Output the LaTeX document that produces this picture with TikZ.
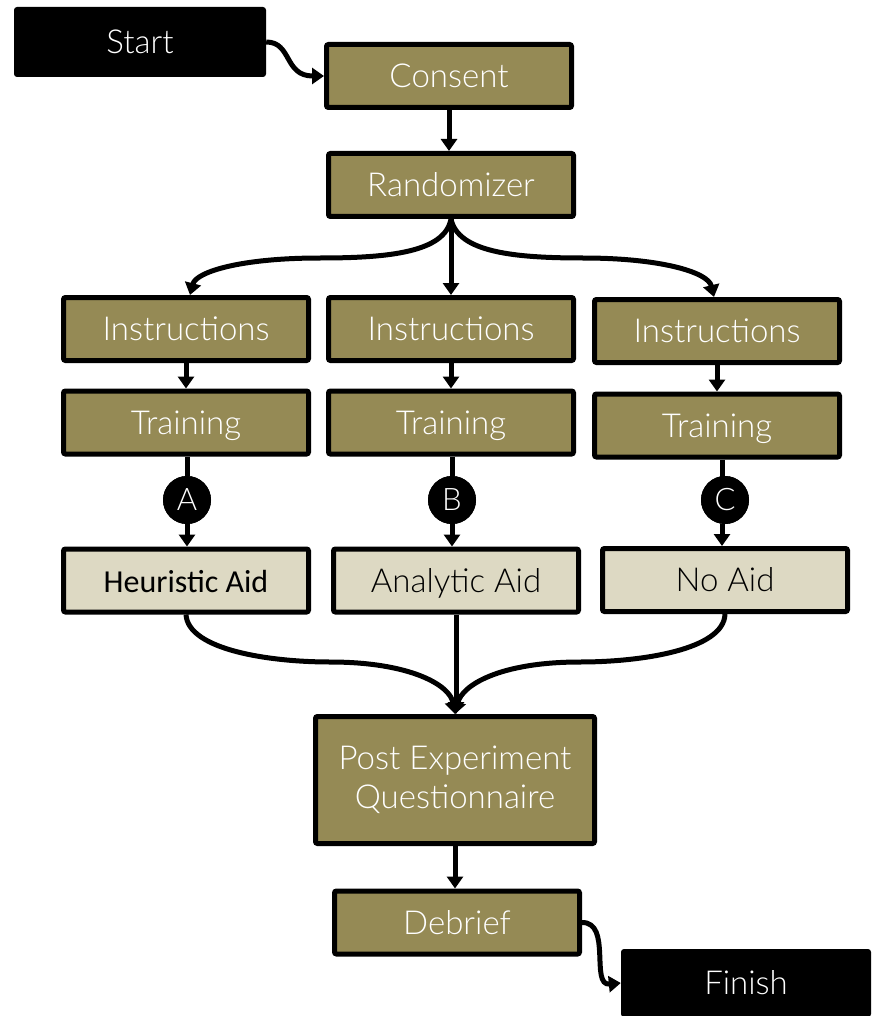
\documentclass[tikz,border=0pt]{standalone}
\usepackage{fontspec}
\setmainfont{Lato}
\newfontfamily\thinfont{Lato Light}
\newfontfamily\califont{Carlito}
\usetikzlibrary{arrows.meta}
\definecolor{olive}{HTML}{958A55}
\definecolor{tan}{HTML}{DDD9C3}
\tikzset{
  base/.style={draw=black, line width=5pt, rounded corners=2pt, minimum width=245pt, minimum height=63pt, inner sep=0pt,
    font=\thinfont\fontsize{33}{38}\selectfont, text height=23pt, text depth=0pt},
  darkbox/.style={base, fill=olive, text=white},
  lightbox/.style={base, fill=tan, text=black},
  termbox/.style={fill=black, rounded corners=3pt, minimum width=252pt, minimum height=70pt, inner sep=0pt, text=white,
    font=\thinfont\fontsize{33}{38}\selectfont, text height=23pt, text depth=0pt},
  letter/.style={circle, fill=black, minimum size=48pt, inner sep=0pt, text=white,
    font=\thinfont\fontsize{31}{36}\selectfont},
  conn/.style={line width=5pt, -{Triangle[length=12pt,width=16pt]}},
  plain/.style={line width=5pt},
}
\begin{document}
\begin{tikzpicture}[x=1pt, y=-1pt]
\path[use as bounding box] (0,0) rectangle (871,1016);
% terminals
\node[termbox] (start) at (140,42) {Start};
\node[termbox, minimum width=250pt, minimum height=68pt] (finish) at (746,983) {Finish};
% main chain
\node[darkbox] (consent) at (449,76) {Consent};
\node[darkbox] (rand) at (451,185) {Randomizer};
\node[darkbox] (ins1) at (186,329) {Instructions};
\node[darkbox] (ins2) at (451,329) {Instructions};
\node[darkbox] (ins3) at (717,331) {Instructions};
\node[darkbox] (tr1) at (186,422.5) {Training};
\node[darkbox] (tr2) at (451,422.5) {Training};
\node[darkbox] (tr3) at (717,425.5) {Training};
\node[letter] (ca) at (187,500) {A};
\node[letter] (cb) at (452,500) {B};
\node[letter] (cc) at (725,500) {C};
\node[lightbox, font=\califont\fontsize{32}{36}\selectfont] (aid1) at (186,580.5) {Heuristic Aid};
\node[lightbox] (aid2) at (456,580.5) {Analytic Aid};
\node[lightbox] (aid3) at (725,580) {No Aid};
\node[darkbox, minimum width=279pt, minimum height=127pt, align=center, text height=, text depth=,
  font=\thinfont\fontsize{33}{39}\selectfont] (post) at (455,780) {Post Experiment\\Questionnaire};
\node[darkbox] (debrief) at (457,922.5) {Debrief};
% connectors
\draw[conn] (start.east) .. controls (292,42) and (284,76) .. (consent.west);
\draw[conn] (consent.south) -- (consent.south |- rand.north);
\draw[conn] (rand.south) .. controls (445,252) and (390,258) .. (320,258) .. controls (240,258) and (196,272) .. (ins1.north -| 190,0);
\draw[conn] (rand.south) -- (rand.south |- ins2.north);
\draw[conn] (rand.south) .. controls (458,252) and (513,258) .. (583,258) .. controls (660,258) and (708,272) .. (ins3.north -| 714,0);
\draw[conn] (ins1.south) -- (tr1.north);
\draw[conn] (ins2.south) -- (tr2.north);
\draw[conn] (ins3.south) -- (tr3.north);
\draw[plain] (tr1.south -| ca) -- (ca);
\draw[plain] (tr2.south -| cb) -- (cb);
\draw[plain] (tr3.south -| 722,0) -- (722,500);
\node[letter] at (ca) {A};
\node[letter] at (cb) {B};
\node[letter] at (cc) {C};
\draw[conn] (ca.south) -- (ca.south |- aid1.north);
\draw[conn] (cb.south) -- (cb.south |- aid2.north);
\draw[conn] (cc.south -| 722,0) -- (aid3.north -| 722,0);
\draw[conn] (aid1.south) .. controls (188,650) and (270,662) .. (330,662) .. controls (410,662) and (450,685) .. (post.north);
\draw[conn] (aid2.south) -- (aid2.south |- post.north);
\draw[conn] (aid3.south) .. controls (724,650) and (640,662) .. (580,662) .. controls (500,662) and (462,685) .. (post.north);
\draw[conn] (post.south) -- (post.south |- debrief.north);
\draw[conn] (debrief.east) .. controls (612,922) and (590,986) .. (finish.west);
\end{tikzpicture}
\end{document}
